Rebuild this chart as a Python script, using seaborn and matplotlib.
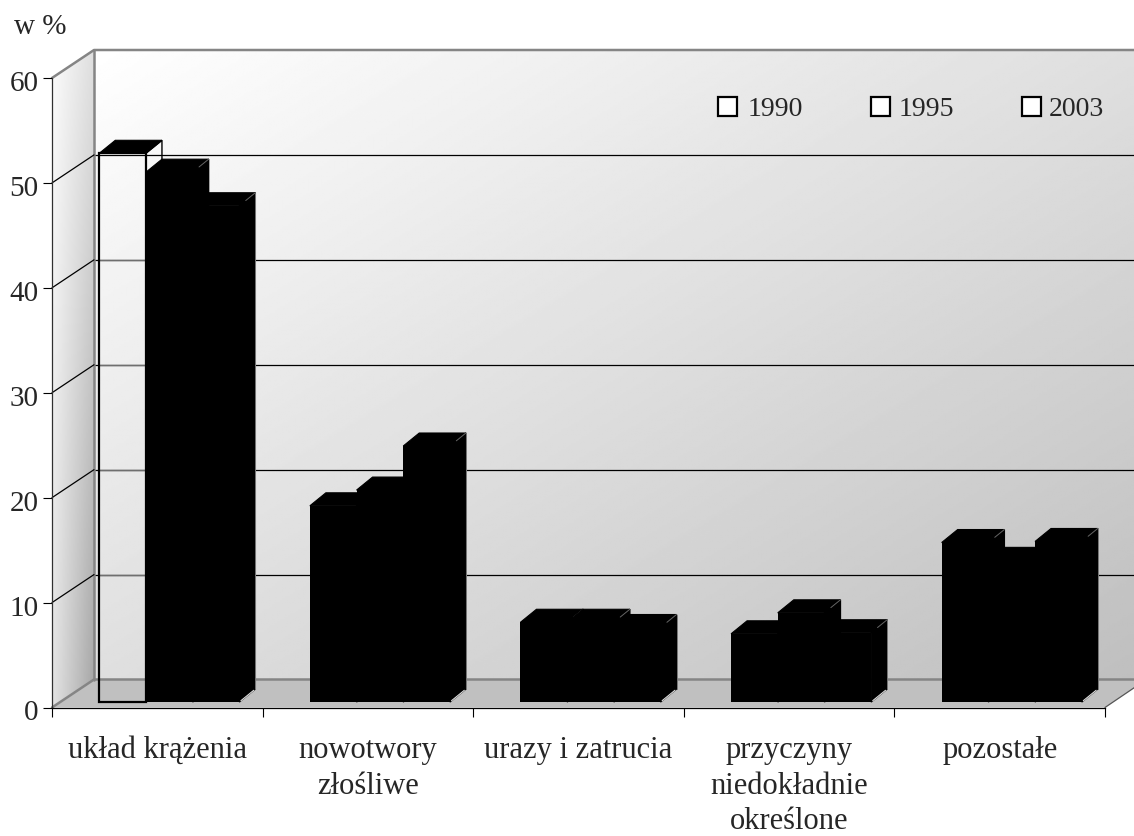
import numpy as np
import pandas as pd
import matplotlib
matplotlib.use("Agg")
import matplotlib.pyplot as plt
from matplotlib.patches import Polygon, Patch
from matplotlib.transforms import ScaledTranslation
import seaborn as sns

categories = ["układ krążenia", "nowotwory\nzłośliwe", "urazy i zatrucia",
              "przyczyny\nniedokładnie\nokreślone", "pozostałe"]
years = ["1990", "1995", "2003"]
v1990 = [52.3, 18.7, 7.6, 6.5, 15.2]
v1995 = [50.5, 20.2, 7.6, 8.5, 13.5]
v2003 = [47.3, 24.4, 7.1, 6.6, 15.3]
y_ticks = [0, 10, 20, 30, 40, 50, 60]
y_label = "w %"

sns.set_style("white")
plt.rcParams["font.family"] = ["Liberation Serif", "DejaVu Serif"]
plt.rcParams["font.size"] = 20

W, H = 1134, 836
fig = plt.figure(figsize=(W / 100, H / 100), dpi=100, facecolor="white")


def axes_px(left, top, right, bottom, **kw):
    return fig.add_axes([left / W, 1 - bottom / H, (right - left) / W, (bottom - top) / H], **kw)


# layout of the pseudo-3D box, in pixels
FX0, FX1, FY60, FY0 = 52, 1105, 78, 707.5
DX, DY = 42, 28
BDX, BDY = 16, 13
GRAY = "#858585"

# left wall gradient
lw_ax = axes_px(FX0, FY60 - DY, FX0 + DX, FY0)
uu, vv = np.meshgrid(np.linspace(0, 1, 64), np.linspace(0, 1, 256))
left_img = 255 - (4 + 24 * vv + uu * (28 + 33 * vv))
im = lw_ax.imshow(left_img, cmap="gray", vmin=0, vmax=255, aspect="auto", extent=(FX0, FX0 + DX, FY0, FY60 - DY))
lw_ax.axis("off")
clip = Polygon([(FX0, FY60), (FX0 + DX, FY60 - DY), (FX0 + DX, FY0 - DY), (FX0, FY0)], closed=True,
               transform=lw_ax.transData)
im.set_clip_path(clip)
lw_ax.set_zorder(1)

# back wall gradient and grid
back = axes_px(FX0 + DX, FY60 - DY, W, FY0 - DY)
xx, yy = np.meshgrid(np.linspace(0, 1, 400), np.linspace(0, 1, 300))
back_img = 255 - 32 * (xx + yy)
back.imshow(back_img, cmap="gray", vmin=0, vmax=255, aspect="auto", extent=(0, 1, 0, 60), origin="upper")
back.set_xlim(0, 1)
back.set_ylim(0, 60)
back.axis("off")
back.hlines(y_ticks[1:-1], 0, 1, color="black", lw=0.9)
back.set_zorder(2)

# box edges, floor and slanted grid lines on top of the walls
over = axes_px(0, 0, W, H)
over.set_xlim(0, W)
over.set_ylim(H, 0)
over.axis("off")
over.patch.set_alpha(0)
over.set_zorder(3)
over.add_patch(Polygon([(FX0, FY0), (FX0 + DX, FY0 - DY), (W + 2, FY0 - DY), (W + 2, FY0 - 21), (FX1, FY0)],
                       closed=True, fc="#c0c0c0", ec="none"))
over.plot([FX0, FX0 + DX, W], [FY60, FY60 - DY, FY60 - DY], color=GRAY, lw=1.8)
over.plot([FX0 + DX, FX0 + DX], [FY60 - DY, FY0 - DY], color=GRAY, lw=1.8)
over.plot([FX0, FX0 + DX, W], [FY0, FY0 - DY, FY0 - DY], color=GRAY, lw=1.8)
over.plot([FX1, W + 2], [FY0, FY0 - 21], color="#555555", lw=0.9)
for t in y_ticks[1:-1]:
    y = FY0 - (FY0 - FY60) * t / 60
    over.plot([FX0, FX0 + DX], [y, y - DY], color="black", lw=0.9)

# front axis carrying ticks and tick labels
front = axes_px(FX0, FY60, FX1, FY0)
front.patch.set_alpha(0)
front.set_zorder(4)
front.set_xlim(-0.5, 4.5)
front.set_ylim(0, 60)
for s in ("top", "right"):
    front.spines[s].set_visible(False)
front.spines["left"].set_color("#303030")
front.spines["left"].set_linewidth(0.9)
front.spines["bottom"].set_color("black")
front.spines["bottom"].set_linewidth(0.9)
front.set_yticks(y_ticks)
front.set_xticks(np.arange(-0.5, 5, 1))
front.set_xticklabels([])
front.set_xticks(np.arange(5), minor=True)
front.set_xticklabels(categories, minor=True, linespacing=1.3)
front.tick_params(axis="both", which="major", length=6.5, width=0.8, color="black", left=True, bottom=True,
                  labelsize=21)
front.tick_params(axis="y", pad=3)
front.tick_params(axis="x", which="minor", length=0, pad=20.5, labelsize=22)
shift = ScaledTranslation(0, -3 / 100, fig.dpi_scale_trans)
for lab in front.get_yticklabels():
    lab.set_transform(lab.get_transform() + shift)

# bars
df = pd.DataFrame({
    "category": categories * 3,
    "year": np.repeat(years, len(categories)),
    "value": v1990 + v1995 + v2003,
})
bars = axes_px(FX0 + 12, 702 - (FY0 - FY60), FX1 + 12, 702)
bars.patch.set_alpha(0)
bars.set_zorder(5)
sns.barplot(data=df, x="category", y="value", hue="year", palette=["black", "black", "black"],
            width=0.665, gap=0, saturation=1, legend=False, ax=bars, edgecolor="black", linewidth=0,
            errorbar=None)
bars.set_xlim(-0.5, 4.5)
bars.set_ylim(0, 60)
bars.axis("off")

px_x = (bars.transData.transform((1, 0))[0] - bars.transData.transform((0, 0))[0])
px_y = (bars.transData.transform((0, 1))[1] - bars.transData.transform((0, 0))[1])
dx, dy = BDX / px_x, BDY / px_y
z = 10
for i, container in enumerate(bars.containers):
    for j, p in enumerate(container.patches):
        open_bar = i == 0 and j == 0   # the first bar of the reference is only an outline
        x0, w, h = p.get_x(), p.get_width(), p.get_height()
        x1 = x0 + w
        p.set_zorder(z)
        if open_bar:
            p.set_facecolor("none")
            p.set_edgecolor("black")
            p.set_linewidth(1.6)
            p.set_clip_on(False)
            # grid lines seen through the outline look grey
            a = bars.transData.transform((x0, 0))[0]
            b = bars.transData.transform((x1, 0))[0]
            for t in y_ticks[1:-1]:
                y = FY0 - DY - (FY0 - FY60) * t / 60
                if y > 160:
                    over.plot([a, b], [y, y], color="#6f6f6f", lw=1.0)
        side = Polygon([(x1, 0), (x1 + dx, dy), (x1 + dx, h + dy), (x1, h)], closed=True,
                       fc="none" if open_bar else "black", ec="black", lw=1.0, zorder=z, clip_on=False)
        top = Polygon([(x0, h), (x0 + dx, h + dy), (x1 + dx, h + dy), (x1, h)], closed=True,
                      fc="black", ec="black", lw=0.8, zorder=z + 1, clip_on=False)
        bars.add_patch(side)
        bars.add_patch(top)
        if not open_bar:
            bars.plot([x1 + 0.4 * dx, x1 + dx], [h + 0.4 * dy, h + dy], color="#666666", lw=0.7, zorder=z + 1,
                      clip_on=False)
        if i == 2:
            bars.plot([x1 + 0.1 * dx, x1 + 0.9 * dx], [0.1 * dy, 0.9 * dy], color="#dddddd", lw=0.8, zorder=z + 1,
                      clip_on=False)
            bars.plot([x1 + dx, x1 + dx], [dy, h + dy], color="#777777", lw=0.7, zorder=z + 1, clip_on=False)
    z += 2

# legend
handles = [Patch(fc="white", ec="black", lw=1.6, label=y) for y in years]
leg = fig.legend(handles=handles, loc="upper left", bbox_to_anchor=(718 / W, 1 - 97 / H), ncols=3, frameon=False,
                 fontsize=20, handlelength=0.68, handleheight=0.68, handletextpad=0.4, columnspacing=2.34,
                 borderpad=0, borderaxespad=0)
for patch, nudge in zip(leg.get_patches(), (0, 2.2, 2.2)):
    patch.set_x(patch.get_x() + nudge)

fig.text(14 / W, 1 - 27 / H, y_label, fontsize=21, ha="left", va="center")

fig.savefig("out.png", dpi=100, facecolor="white")
